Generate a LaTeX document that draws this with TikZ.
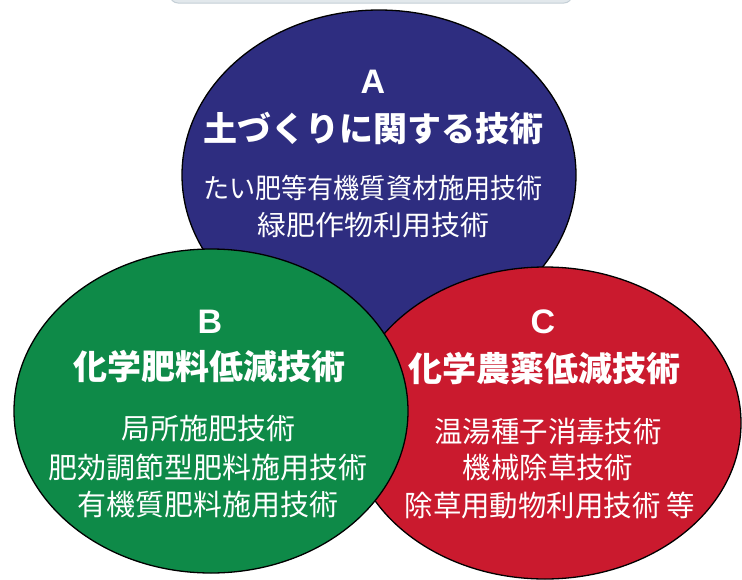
\documentclass[tikz,border=0pt]{standalone}
\usepackage{fontspec}
\usetikzlibrary{shapes.geometric}
\newfontfamily\jpfont{Noto Sans CJK JP}
\newfontfamily\latinfont{Liberation Sans}
\definecolor{cblue}{HTML}{2E2D80}
\definecolor{cgreen}{HTML}{0E8A48}
\definecolor{cred}{HTML}{CA1A2E}
\definecolor{ctop}{HTML}{E2E8EC}
\definecolor{ctopedge}{HTML}{C4CFD6}
\begin{document}
\begin{tikzpicture}[x=1pt,y=-1pt,
  blob/.style={ellipse, draw=black, line width=1.3pt, inner sep=0pt},
  letter/.style={text=white, inner sep=0pt, font=\latinfont\bfseries\fontsize{34}{34}\selectfont},
  title/.style={text=white, inner sep=0pt, font=\jpfont\bfseries\fontsize{34}{34}\selectfont},
  body/.style={text=white, inner sep=0pt, font=\jpfont\fontsize{29}{29}\selectfont}]
\useasboundingbox (0,0) rectangle (742,579);
\fill[white] (0,0) rectangle (742,579);
% top banner (cut off)
\draw[fill=ctop, draw=ctopedge, line width=1pt, rounded corners=8pt] (170,-20) rectangle (572,3);
% ellipses
\node[blob, fill=cblue, minimum width=394pt, minimum height=330pt] (ea) at (379,175) {};
\node[blob, fill=cred, minimum width=392pt, minimum height=312pt] (ec) at (545,423) {};
\node[blob, fill=cgreen, minimum width=394pt, minimum height=324pt] (eb) at (211,411) {};
% A
\node[letter] (la) at (373,82) {A};
\node[title] (ta) at (373,128) {土づくりに関する技術};
\node[body] (a1) at (373,188) {\scalebox{0.9}[0.95]{たい肥等有機質資材施用技術}};
\node[body] (a2) at (373,225) {\scalebox{1}[0.95]{緑肥作物利用技術}};
% B
\node[letter] (lb) at (210,322) {B};
\node[title] (tb) at (209,367) {化学肥料低減技術};
\node[body] (b1) at (208,428) {局所施肥技術};
\node[body] (b2) at (208,467) {肥効調節型肥料施用技術};
\node[body] (b3) at (208,505) {有機質肥料施用技術};
% C
\node[letter] (lc) at (543,322) {C};
\node[title] (tc) at (544,368) {化学農薬低減技術};
\node[body] (c1) at (548,432) {\scalebox{0.98}[1]{温湯種子消毒技術}};
\node[body] (c2) at (548,468) {\scalebox{0.98}[1]{機械除草技術}};
\node[body] (c3) at (550,505) {\scalebox{0.98}[1]{除草用動物利用技術 等}};
\end{tikzpicture}
\end{document}
